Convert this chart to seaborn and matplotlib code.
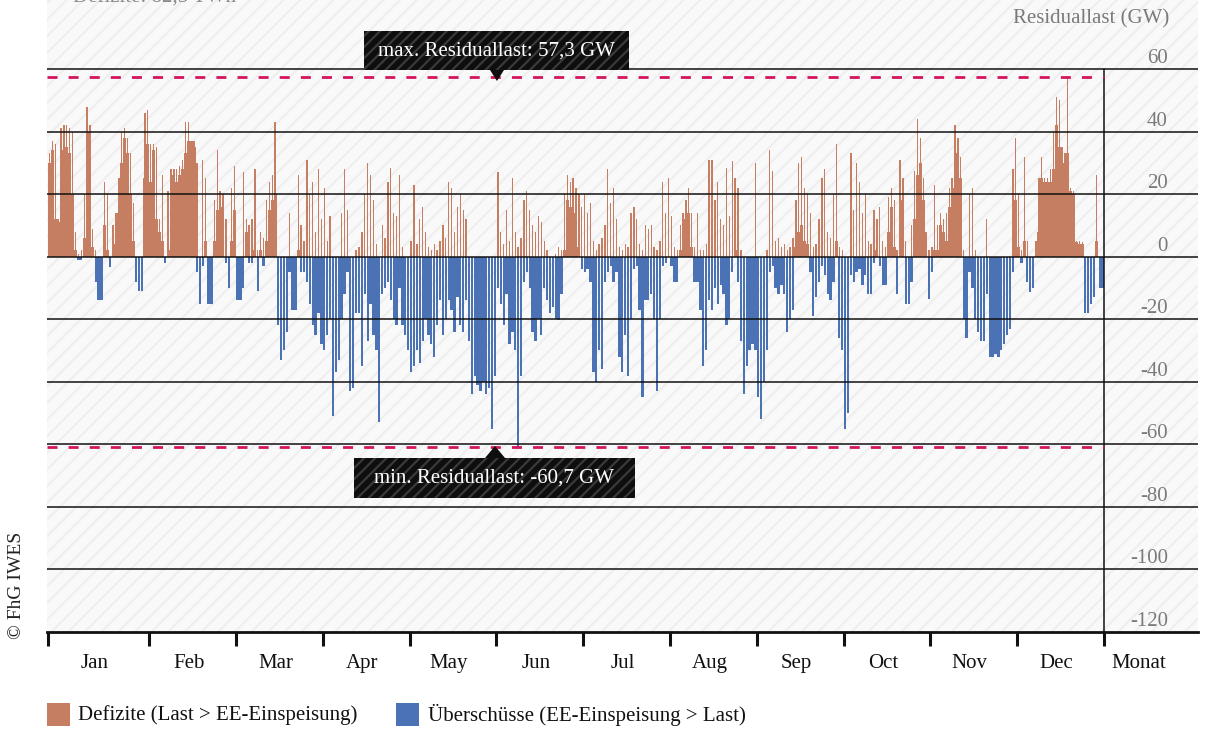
import numpy as np
import pandas as pd
import matplotlib
matplotlib.use("Agg")
import matplotlib.pyplot as plt
from matplotlib.patches import Rectangle, Polygon
from matplotlib import transforms
import seaborn as sns

# ---------------- data (GW) : daily peak (hi) and daily trough (lo) ----------------
months = ["Jan", "Feb", "Mar", "Apr", "May", "Jun", "Jul", "Aug", "Sep", "Oct", "Nov", "Dec"]

jan_hi = [33, 37, 36, 12, 41, 42, 42, 41, 40, 8, 1, 2, 20, 48, 42, 9, 2, -2, -5, 24, 20, -1, 10, 14, 25, 40, 41, 38, 33, 17, -2, -4, -3, 46, 47]
jan_lo = [30, 34, 12, 11, 30, 34, 35, 33, 20, 2, -1, -1, 6, 40, 9, 3, -8, -14, -14, 10, 2, -3.4, 4, 12, 14, 30, 38, 33, 20, 5, -8, -11, -11, 25, 36]
feb_hi = [36, 36, 35, 12, 26, 0, 21, 28, 28, 28, 29, 31, 43, 43, 37, 37, 30, -8, 31, 25, -5, -6, 18, 34, 21, 20, 12, -4, 22, 29]
feb_lo = [24, 34, 12, 8, 5, -2, 2, 24, 26, 24, 26, 28, 33, 37, 37, 35, -5, -15, -3, 5, -15, -15, 5, 15, 16, 10, -2, -10, 5, 15]
mar_hi = [-3, -5, 27, 12, 10, 12, 28, 2, 8, 6, 18, 24, 26, 43, -2, -5, -6, -2, 14, -3, -4, 26, 10, 5, 31, 20, 24, 8, 28, 12]
mar_lo = [-14, -14, -10, 8, -2, -2, 2, -11, 2, -3, 5, 15, 18, 20, -22, -33, -30, -24, -5, -17, -17, 2, -5, -5, -8, -15, -22, -25, -18, -28]
apr_hi = [22, 5, 13, -2, -5, -3, 14, 28, 15, -4, -5, 2, 3, 8, 20, 30, 26, 18, 4, -2, 10, 6, 24, 28.5, 14, 13, 26, 3, -2, -3]
apr_lo = [-30, -25, -20, -51, -37, -33, -20, -12, -5, -43, -42, -18, -18, -35, -12, -27, -15, -25, -30, -53, -12, -10, -8, -14, -20, -22, -10, -22, -25, -30]
may_hi = [5, 23, 4, 12, 16, 8, 3, 2, 4, 2, 5, 10, 6, 24, 22, 8, 16, 20, 15, 12, -3, -2, -4, -3, -5, -2, -3, -4, -6, -3]
may_lo = [-37, -35, -30, -34, -27, -20, -25, -28, -32, -22, -14, -25, -20, -14, -17, -24, -13, -22, -24, -14, -27, -44, -38, -41, -43, -40, -44, -42, -55, -38]
jun_hi = [27, 8, 4, 15, 5, 25, 8, 3, 6, 18, 21, 15, 10, 8, 13, 11, 5, 2, 0, -1, 1, 3, 2, 20, 26, 24, 25, 22, 20, 16]
jun_lo = [-10, -15, -22, -12, -28, -24, -30, -60.7, -38, -8, -5, -10, -24, -27, -20, -25, -10, -14, -18, -16, -20, -20.4, -12, 2, 18, 16, 14, 10, 3, -4]
jul_hi = [20, 14, 17, 5, 2, 4, 6, 10, 28, 17, 22, 12, 3, 2, 4, 3, 14, 16, 12, 4, 2, 10, 9, 10, 3, 2, 5, 24, 14, 25]
jul_lo = [-5, -4, -8, -37, -40, -30, -36, -8, -5, -3, -8, -5, -32, -37, -25, -38, -20, -4, -3, -17, -45, -14, -14, -12, -20, -43, -20, -3, -2, 0]
aug_hi = [13, 3, 2, 10, 14, 18, 22, 14, 3, 14, 2, 2, 4, 31, 31, 18, 24, 12, 10, 28.5, 13, 30.6, 25, 22, 2, -2, -3, -2, -4, 30]
aug_lo = [-3, -8, -8, 2, 8, 12, 14, 3, -8, -8, -17, -35, -30, -14, -17, -10, -15, -9, -12, -22, -20, -5, 2, -8, -27, -44, -35, -30, -28, -30]
sep_hi = [-3, -5, -2, 2, 34, 27.5, 5, 6, 3, 4, 2, 3, 6, 18, 30, 32, 22, 20, 14, 3, 4, 12, 25, 28, 8, 6, 20, 36, 3, 2]
sep_lo = [-45, -52, -40, -30, -5, -3, -10, -12, -9, -12, -24, -20, -17, 3, 8, 10, 5, 4, -5, -19, -13, -8, -3, -6, -12, -14, -8, 5, -26, -30]
oct_hi = [-4, -3, 33, 15, 30, 24, 14, 20, 5, 4, 15, 12, 16, 5, 3, 19, 22, 18, 2, 31, 25, 5, -2, 10, 27.5, 44, 38, 25, 8, 2]
oct_lo = [-55, -50, -6, -8, -5, -4, -9, -6, -12, -12, -2, 2, -3, -9, -9, 8, 16, 3, -12, 10, 18, -15, -15, -8, 12, 26, 30, 18, 0, -13.5]
nov_hi = [3, 23, 10, 14, 12, 14, 22, 25, 42, 38, 32, 2, 0, 20, 22, 2, -2, -3, -2, 12, -10, -12, -10, -8, -6, -4, -3, -2, 28, 38]
nov_lo = [-5, 2, 2, 10, 8, 5, 16, 22, 30, 33, 25, -20, -26, -5, -10, -20, -24, -27, -27, -12, -32, -32, -31, -32, -30, -28, -25, -23, -5, 18]
dec_hi = [20, 2, 32, 5, -3, -2, 5, 25, 32, 25, 25, 28, 40, 51, 50, 35, 33, 57.3, 22, 21, 5, 5, 4.6, -2, -3, -5, -4, 26, -3, -2]
dec_lo = [3, -2, 5, -8, -11.4, -10, 1, 8, 25, 24, 24, 24, 28, 42, 35, 32, 30, 33, 21, 20, 4.6, 4, 4, -18, -18, -15, -13, 5, -10, -10]

hi_by_month = [jan_hi, feb_hi, mar_hi, apr_hi, may_hi, jun_hi, jul_hi, aug_hi, sep_hi, oct_hi, nov_hi, dec_hi]
lo_by_month = [jan_lo, feb_lo, mar_lo, apr_lo, may_lo, jun_lo, jul_lo, aug_lo, sep_lo, oct_lo, nov_lo, dec_lo]

y_ticks = [60, 40, 20, 0, -20, -40, -60, -80, -100, -120]
max_value = 57.3
min_value = -60.7
max_label = "max. Residuallast: 57,3 GW"
min_label = "min. Residuallast: -60,7 GW"
series_labels = ["Defizite (Last > EE-Einspeisung)", "Überschüsse (EE-Einspeisung > Last)"]
top_note = "Defizite: 82,5 TWh"
y_title = "Residuallast (GW)"
x_title = "Monat"
credit = "© FhG IWES"

c_def = "#c57e62"
c_ueb = "#4a72b4"
c_red = "#d4145e"

# ---------------- build frames ----------------
hi = np.concatenate([np.asarray(m, float) for m in hi_by_month])
lo = np.concatenate([np.asarray(m, float) for m in lo_by_month])
n_days = len(hi)
days = np.arange(n_days)
df_lo = pd.DataFrame({"t": days + 0.5, "v": lo})
df_hi = pd.DataFrame({"t": days + 0.5, "v": hi})
for d in (df_lo, df_hi):
    d["kind"] = np.where(d["v"] >= 0, series_labels[0], series_labels[1])

bounds = np.concatenate([[0], np.cumsum([len(m) for m in hi_by_month])])
pal = {series_labels[0]: c_def, series_labels[1]: c_ueb}

# ---------------- theme ----------------
sns.set_theme(style="white")
plt.rcParams["font.family"] = ["Liberation Serif", "DejaVu Serif"]
plt.rcParams["hatch.linewidth"] = 1.6

W, H = 1205, 751
fig = plt.figure(figsize=(W / 100, H / 100), dpi=100)
fig.patch.set_facecolor("white")

# pixel geometry of the reference
ax_l, ax_r, ax_t, ax_b = 47, 1198, 0, 632
x0_px, x1_px = 48, 1104
ppd = (x1_px - x0_px) / n_days
y60_px, y120_px = 69, 632
ppg = (y120_px - y60_px) / 180.0
zero_px = y60_px + 60 * ppg

def dx(px):
    return (px - x0_px) / ppd

def dy(py):
    return (zero_px - py) / ppg

ax = fig.add_axes([ax_l / W, 1 - ax_b / H, (ax_r - ax_l) / W, (ax_b - ax_t) / H])
ax.set_facecolor("#f9f9f9")
ax.add_patch(Rectangle((0, 0), 1, 1, transform=ax.transAxes, facecolor="#f9f9f9",
                       edgecolor="#efefef", hatch="//", linewidth=0, zorder=0))

# daily trough, deficit days: full-day bars (solid winter blocks)
lo_pos = df_lo[df_lo["v"] >= 0]
lo_neg = df_lo[df_lo["v"] < 0]
sns.barplot(data=lo_pos, x="t", y="v", hue="kind", palette=pal,
            native_scale=True, dodge=False, width=1.0, errorbar=None,
            linewidth=0, saturation=1, legend=False, ax=ax, zorder=2)
for p in ax.patches:
    p.set_antialiased(False)
n_done = len(ax.patches)
# daily trough, surplus days: slightly narrower bars
sns.barplot(data=lo_neg, x="t", y="v", hue="kind", palette=pal,
            native_scale=True, dodge=False, width=0.8, errorbar=None,
            linewidth=0, saturation=1, legend=False, ax=ax, zorder=2)
# daily peak: narrow spikes
sns.barplot(data=df_hi, x="t", y="v", hue="kind", palette=pal,
            native_scale=True, dodge=False, width=0.45, errorbar=None,
            linewidth=0, saturation=1, legend=False, ax=ax, zorder=2.5)

xmin, xmax = dx(ax_l), dx(ax_r)
ax.set_xlim(xmin, xmax)
ax.set_ylim(dy(ax_b), dy(ax_t))

# grid lines
for v in y_ticks[:-1]:
    ax.plot([xmin, xmax], [v, v], color="#111111", lw=1.1, zorder=4, solid_capstyle="butt")
ax.plot([n_days, n_days], [y_ticks[-1], y_ticks[0]], color="#111111", lw=1.1, zorder=4)

# red max/min lines
for v in (max_value, min_value):
    ax.plot([xmin, n_days], [v, v], color=c_red, lw=2.0, linestyle=(0, (3.6, 4.0)), zorder=5)

# y labels
for v in y_ticks:
    ax.text(dx(1168), v + 10.5 / ppg, f"{v}", ha="right", va="center",
            fontsize=15, color="#7a7a7a", zorder=6)
ax.text(dx(1169), dy(19), y_title, ha="right", va="center", fontsize=15, color="#7a7a7a")
ax.text(dx(73), dy(3), top_note, ha="left", va="baseline", fontsize=15, color="#8a8a8a",
        clip_on=False)

# spines / ticks
sns.despine(ax=ax, left=True, right=True, top=True, bottom=False)
ax.spines["bottom"].set_color("#111111")
ax.spines["bottom"].set_linewidth(2.0)
ax.set_yticks([])
ax.set_xticks(bounds)
ax.set_xticklabels([])
ax.tick_params(axis="x", which="major", direction="out", length=10, width=2.2,
               color="#111111", bottom=True)
ax.set_xlabel("")
ax.set_ylabel("")

trans = transforms.blended_transform_factory(ax.transData, ax.transAxes)
lab_y = (ax_b - 668) / (ax_b - ax_t)
for i, m in enumerate(months):
    cx = (bounds[i] + bounds[i + 1]) / 2 - 4 / ppd
    ax.text(cx, lab_y, m, transform=trans, ha="center", va="baseline", fontsize=15,
            color="#111111", clip_on=False)
ax.text(dx(1139), lab_y, x_title, transform=trans, ha="center", va="baseline", fontsize=15,
        color="#111111", clip_on=False)

# annotation boxes
def box(x_l, x_r, y_t, y_b, tri, text, ty):
    ax.add_patch(Rectangle((dx(x_l), dy(y_b)), dx(x_r) - dx(x_l), dy(y_t) - dy(y_b),
                           facecolor="#0e0e0e", edgecolor="#3a3a3a", hatch="///",
                           linewidth=0, zorder=7))
    ax.add_patch(Polygon([(dx(p[0]), dy(p[1])) for p in tri], closed=True,
                         facecolor="#0e0e0e", edgecolor="none", zorder=7))
    ax.text(dx((x_l + x_r) / 2), dy(ty), text, ha="center", va="center", fontsize=15,
            color="white", zorder=8)

box(364, 629, 31, 70, [(490, 70), (504, 70), (497, 81)], max_label, 51)
box(354, 635, 458, 498, [(485, 458), (505, 458), (495, 446)], min_label, 478)

# legend
def legend_item(px, text_px, color, text):
    fig.add_artist(Rectangle((px / W, 1 - 726 / H), 23 / W, 23 / H, transform=fig.transFigure,
                             facecolor=color, edgecolor="none"))
    fig.text(text_px / W, 1 - 715 / H, text, ha="left", va="center", fontsize=15, color="#111111")

legend_item(47, 78, c_def, series_labels[0])
legend_item(396, 428, c_ueb, series_labels[1])

fig.text(17 / W, 1 - 585 / H, credit, rotation=90, ha="center", va="center", fontsize=14,
         color="#222222")

fig.savefig("out.png", dpi=100, facecolor="white")
